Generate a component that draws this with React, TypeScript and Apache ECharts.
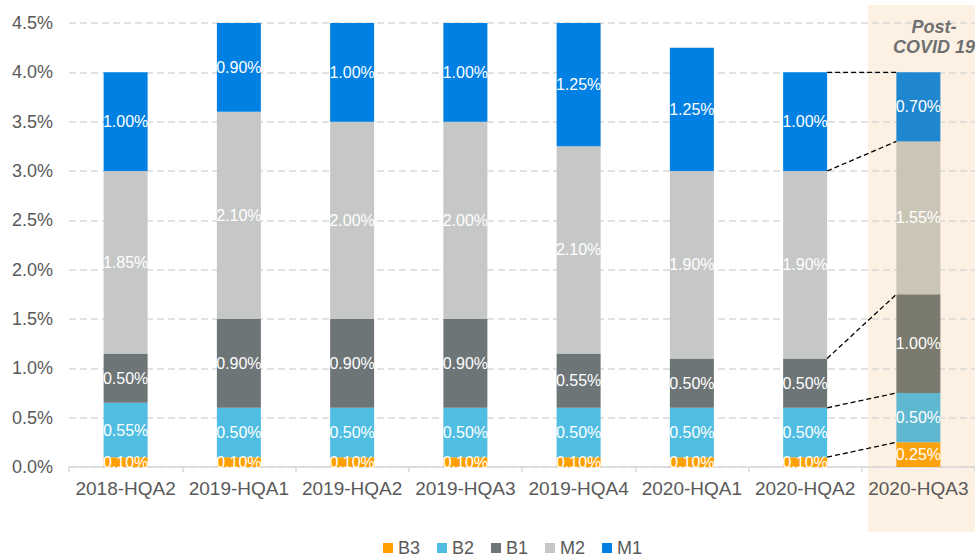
import React, { useEffect, useRef } from "react";
import * as echarts from "echarts";

const categories = ["2018-HQA2", "2019-HQA1", "2019-HQA2", "2019-HQA3", "2019-HQA4", "2020-HQA1", "2020-HQA2", "2020-HQA3"];
const b3 = [0.1, 0.1, 0.1, 0.1, 0.1, 0.1, 0.1, 0.25];
const b2 = [0.55, 0.5, 0.5, 0.5, 0.5, 0.5, 0.5, 0.5];
const b1 = [0.5, 0.9, 0.9, 0.9, 0.55, 0.5, 0.5, 1.0];
const m2 = [1.85, 2.1, 2.0, 2.0, 2.1, 1.9, 1.9, 1.55];
const m1 = [1.0, 0.9, 1.0, 1.0, 1.25, 1.25, 1.0, 0.7];
const yTicks = [0, 0.5, 1, 1.5, 2, 2.5, 3, 3.5, 4, 4.5];
// connector lines between 2020-HQA2 and 2020-HQA3 segment boundaries: [from, to]
const connectors = [
  [0.1, 0.25],
  [0.6, 0.75],
  [1.1, 1.75],
  [3.0, 3.3],
  [4.0, 4.0],
];

const FONT = "'Liberation Sans', Arial, sans-serif";
const BAR_W = 44;

export default function App() {
  const ref = useRef<HTMLDivElement>(null);
  useEffect(() => {
    document.body.style.margin = "0";
    const chart = echarts.init(ref.current!, null, { renderer: "svg" });
    const seriesDefs = [
      { name: "B3", data: b3, color: "#FFA000", last: "#FBA20C" },
      { name: "B2", data: b2, color: "#50BEE2", last: "#60B8D0" },
      { name: "B1", data: b1, color: "#6E7577", last: "#7B7A6E" },
      { name: "M2", data: m2, color: "#C6C8C8", last: "#CBC5B6" },
      { name: "M1", data: m1, color: "#0080E2", last: "#1F87D0" },
    ];
    const lastIdx = categories.length - 1;
    const bars = seriesDefs.map((s) => ({
      name: s.name,
      type: "bar",
      stack: "total",
      barWidth: BAR_W,
      itemStyle: { color: s.color },
      label: {
        show: true,
        position: "inside",
        color: "#ffffff",
        fontFamily: FONT,
        fontSize: 16,
        formatter: (p: any) => p.value.toFixed(2) + "%",
      },
      data: s.data.map((v, i) =>
        i === lastIdx ? { value: v, itemStyle: { color: s.last } } : v
      ),
      z: 2,
    }));
    const connectorSeries = {
      type: "custom",
      name: "connectors",
      data: connectors.map((c) => [6, c[0], c[1]]),
      encode: { x: 0, y: 1 },
      z: 5,
      silent: true,
      renderItem: (params: any, api: any) => {
        const from = api.value(1);
        const to = api.value(2);
        const p1 = api.coord([6, from]);
        const p2 = api.coord([7, to]);
        return {
          type: "line",
          shape: { x1: p1[0] + BAR_W / 2, y1: p1[1], x2: p2[0] - BAR_W / 2, y2: p2[1] },
          style: { stroke: "#000000", lineWidth: 1.3, lineDash: [5, 3] },
        };
      },
    };
    chart.setOption({
      animation: false,
      textStyle: { fontFamily: FONT },
      grid: { left: 69, right: -6, top: 23, bottom: 92, containLabel: false },
      legend: {
        data: ["B3", "B2", "B1", "M2", "M1"],
        left: 378,
        top: 533,
        itemWidth: 10,
        itemHeight: 10,
        itemGap: 17,
        icon: "rect",
        textStyle: { color: "#595959", fontSize: 18, fontFamily: FONT, lineHeight: 20 },
      },
      graphic: [
        {
          type: "rect",
          z: -100,
          silent: true,
          shape: { x: 868, y: 5, width: 107, height: 527 },
          style: { fill: "#FDF1E3" },
        },
        {
          type: "text",
          z: 100,
          x: 934,
          y: 17,
          style: {
            text: "Post-\nCOVID 19",
            align: "center",
            verticalAlign: "top",
            fill: "#707070",
            font: "italic bold 18px 'Liberation Sans', Arial, sans-serif",
            lineHeight: 20,
          },
        },
      ],
      xAxis: {
        type: "category",
        data: categories,
        axisLine: { lineStyle: { color: "#D9D9D9", width: 1.5 } },
        axisTick: { show: true, length: 5, lineStyle: { color: "#D9D9D9", width: 1.5 } },
        axisLabel: { color: "#595959", fontSize: 19, margin: 12, fontFamily: FONT, interval: 0 },
      },
      yAxis: {
        type: "value",
        min: 0,
        max: 4.5,
        interval: 0.5,
        axisLine: { show: false },
        axisTick: { show: false },
        axisLabel: {
          color: "#595959",
          fontSize: 18,
          margin: 16,
          fontFamily: FONT,
          formatter: (v: number) => (yTicks.includes(v) ? v.toFixed(1) + "%" : ""),
        },
        splitLine: { lineStyle: { color: "#D9D9D9", width: 1.5, type: [7, 4] } },
      },
      series: [...bars, connectorSeries],
    });
    return () => chart.dispose();
  }, []);
  return <div ref={ref} style={{ width: 975, height: 559 }} />;
}
